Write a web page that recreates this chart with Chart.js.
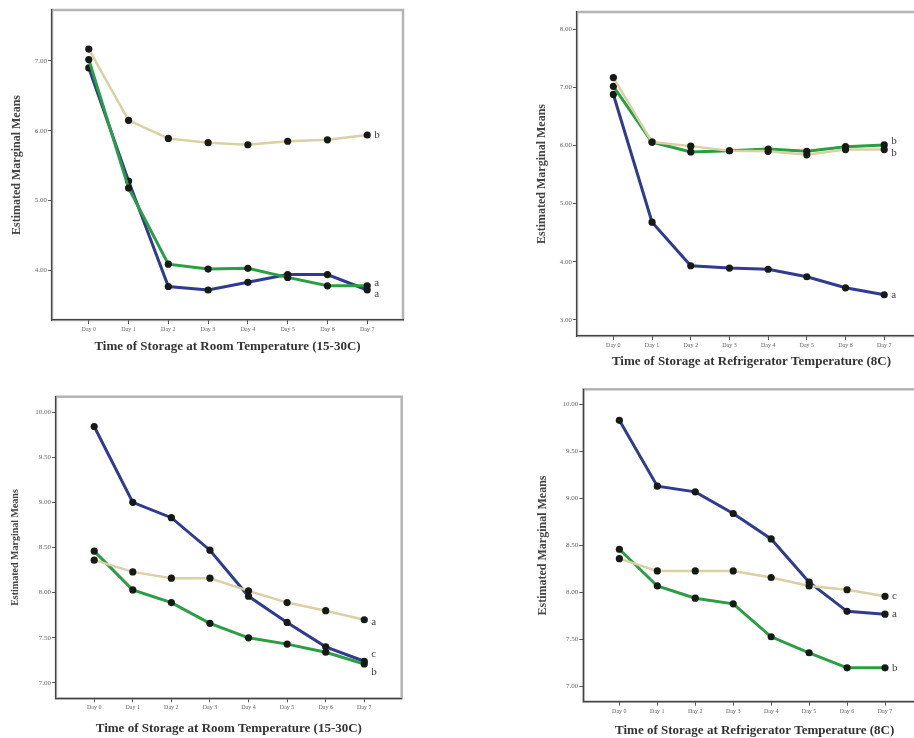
<!DOCTYPE html>
<html>
<head>
<meta charset="utf-8">
<script src="https://cdn.jsdelivr.net/npm/chart.js@4.4.1/dist/chart.umd.min.js"></script>
<style>
  html, body { margin: 0; padding: 0; background: #fff; overflow: hidden; width: 914px; height: 738px; }
  canvas { position: absolute; }
</style>
</head>
<body>
<canvas id="c1" width="410" height="375" style="left:0px;top:0px"></canvas>
<canvas id="c2" width="400" height="375" style="left:530px;top:0px"></canvas>
<canvas id="c3" width="410" height="363" style="left:0px;top:375px"></canvas>
<canvas id="c4" width="400" height="363" style="left:530px;top:375px"></canvas>
<script>
var days = ['Day 0', 'Day 1', 'Day 2', 'Day 3', 'Day 4', 'Day 5', 'Day 6', 'Day 7'];

// top row
var roomTopBlue  = [6.90, 5.28, 3.77, 3.72, 3.83, 3.94, 3.94, 3.72];
var roomTopGreen = [7.02, 5.18, 4.09, 4.02, 4.03, 3.90, 3.78, 3.78];
var roomTopTan   = [7.17, 6.15, 5.89, 5.83, 5.80, 5.85, 5.87, 5.94];
var fridgeTopBlue  = [6.88, 4.68, 3.93, 3.89, 3.87, 3.74, 3.55, 3.43];
var fridgeTopGreen = [7.02, 6.06, 5.89, 5.91, 5.94, 5.90, 5.98, 6.01];
var fridgeTopTan   = [7.17, 6.06, 5.99, 5.91, 5.90, 5.84, 5.93, 5.93];
var topTicksRoom   = [4, 5, 6, 7];
var topTicksFridge = [3, 4, 5, 6, 7, 8];

// bottom row
var roomBotBlue  = [9.84, 9.00, 8.83, 8.47, 7.96, 7.67, 7.40, 7.24];
var roomBotGreen = [8.46, 8.03, 7.89, 7.66, 7.50, 7.43, 7.34, 7.21];
var roomBotTan   = [8.36, 8.23, 8.16, 8.16, 8.02, 7.89, 7.80, 7.70];
var fridgeBotBlue  = [9.83, 9.13, 9.07, 8.84, 8.57, 8.11, 7.80, 7.77];
var fridgeBotGreen = [8.46, 8.07, 7.94, 7.88, 7.53, 7.36, 7.20, 7.20];
var fridgeBotTan   = [8.36, 8.23, 8.23, 8.23, 8.16, 8.07, 8.03, 7.96];
var botTicks = [7, 7.5, 8, 8.5, 9, 9.5, 10];

// group letters at line ends: [tan, green, blue]
var lettersRoomTop   = ['b', 'a', 'a'];
var lettersFridgeTop = ['b', 'b', 'a'];
var lettersRoomBot   = ['a', 'b', 'c'];
var lettersFridgeBot = ['c', 'b', 'a'];

var roomTitle = 'Time of Storage at Room Temperature (15-30C)';
var fridgeTitle = 'Time of Storage at Refrigerator Temperature (8C)';
var yTitle = 'Estimated Marginal Means';

var SERIF = '"Liberation Serif", "DejaVu Serif", serif';
var BLUE = '#2e3b8e', GREEN = '#2a9e43', TAN = '#d9d0a4';

// light grey box around plot area
var framePlugin = {
  id: 'frame',
  beforeDraw: function(chart) {
    var a = chart.chartArea, c = chart.ctx;
    c.save();
    c.strokeStyle = '#b4b4b4';
    c.lineWidth = 2.5;
    c.strokeRect(a.left, a.top, a.right - a.left, a.bottom - a.top);
    c.restore();
  }
};

// letters after last point
var endLabels = {
  id: 'endLabels',
  afterDatasetsDraw: function(chart) {
    var c = chart.ctx, xs = chart.scales.x, ys = chart.scales.y;
    c.save();
    c.font = '11px ' + SERIF;
    c.fillStyle = '#444';
    c.textBaseline = 'middle';
    chart.data.datasets.forEach(function(ds) {
      if (!ds.endLabel) return;
      var last = ds.data[ds.data.length - 1];
      c.fillText(ds.endLabel, xs.getPixelForValue(last.x) + 7, ys.getPixelForValue(last.y) + (ds.labelDy || 0));
    });
    c.restore();
  }
};

function pts(arr) {
  return arr.map(function(v, i) { return {x: i, y: v}; });
}

function makePanel(id, o) {
  var mk = function(vals, color, width, letter, dy) {
    return {
      data: pts(vals), borderColor: color, borderWidth: width,
      pointRadius: 3.6, pointBackgroundColor: '#151a15', pointBorderColor: '#151a15',
      pointBorderWidth: 0, tension: 0, endLabel: letter, labelDy: dy
    };
  };
  new Chart(document.getElementById(id), {
    type: 'line',
    data: {
      datasets: [
        mk(o.tan, TAN, 2.5, o.letters[0], o.dy[0]),
        mk(o.green, GREEN, 3, o.letters[1], o.dy[1]),
        mk(o.blue, BLUE, 3, o.letters[2], o.dy[2])
      ]
    },
    options: {
      responsive: false,
      animation: false,
      layout: { padding: { top: o.padTop, right: o.padRight, left: 0, bottom: 0 } },
      plugins: { legend: { display: false }, tooltip: { enabled: false } },
      scales: {
        x: {
          type: 'linear', min: o.xMin, max: o.xMax,
          afterBuildTicks: function(s) { s.ticks = days.map(function(d, i) { return {value: i}; }); },
          afterFit: function(s) { s.height = o.xH; },
          grid: { drawOnChartArea: false, tickLength: 4, color: '#555' },
          border: { color: '#444', width: 1.2 },
          ticks: {
            autoSkip: false, maxRotation: 0, padding: 2,
            font: { family: SERIF, size: 6 }, color: '#666',
            callback: function(v) { return days[v]; }
          },
          title: {
            display: true, text: o.xTitle, color: '#333',
            font: { family: SERIF, size: 13, weight: 'bold' },
            padding: { top: 0, bottom: o.xTitlePad }
          }
        },
        y: {
          min: o.yMin, max: o.yMax,
          afterBuildTicks: function(s) { s.ticks = o.yTicks.map(function(v) { return {value: v}; }); },
          afterFit: function(s) { s.width = o.yW; },
          grid: { drawOnChartArea: false, tickLength: 4, color: '#555' },
          border: { color: '#444', width: 1.2 },
          ticks: {
            padding: 1, font: { family: SERIF, size: 7 }, color: '#666',
            callback: function(v) { return v.toFixed(2); }
          },
          title: {
            display: true, text: yTitle, color: '#444',
            font: { family: SERIF, size: o.yTitleSize, weight: 'bold' },
            padding: { top: o.yTitlePad, bottom: 0 }
          }
        }
      }
    },
    plugins: [framePlugin, endLabels]
  });
}

makePanel('c1', {
  tan: roomTopTan, green: roomTopGreen, blue: roomTopBlue,
  letters: lettersRoomTop, dy: [0, -3, 4],
  yMin: 3.29, yMax: 7.73, yTicks: topTicksRoom,
  xMin: -0.925, xMax: 7.9,
  padTop: 10, padRight: 7, xH: 55, yW: 52,
  xTitle: roomTitle, xTitlePad: 21, yTitleSize: 12, yTitlePad: 10
});

makePanel('c2', {
  tan: fridgeTopTan, green: fridgeTopGreen, blue: fridgeTopBlue,
  letters: lettersFridgeTop, dy: [3, -4, 0],
  yMin: 2.72, yMax: 8.3, yTicks: topTicksFridge,
  xMin: -0.94, xMax: 8.08,
  padTop: 12, padRight: 0, xH: 39, yW: 47,
  xTitle: fridgeTitle, xTitlePad: 6, yTitleSize: 12, yTitlePad: 4.5
});

makePanel('c3', {
  tan: roomBotTan, green: roomBotGreen, blue: roomBotBlue,
  letters: lettersRoomBot, dy: [2, 8, -7],
  yMin: 6.83, yMax: 10.17, yTicks: botTicks,
  xMin: -0.99, xMax: 7.97,
  padTop: 21.7, padRight: 8.3, xH: 39.7, yW: 56,
  xTitle: roomTitle, xTitlePad: 2, yTitleSize: 10, yTitlePad: 9
});

makePanel('c4', {
  tan: fridgeBotTan, green: fridgeBotGreen, blue: fridgeBotBlue,
  letters: lettersFridgeBot, dy: [0, 0, 0],
  yMin: 6.84, yMax: 10.16, yTicks: botTicks,
  xMin: -0.95, xMax: 8.08,
  padTop: 14.3, padRight: 0, xH: 36.3, yW: 53.3,
  xTitle: fridgeTitle, xTitlePad: 0, yTitleSize: 12, yTitlePad: 6
});
</script>
</body>
</html>
